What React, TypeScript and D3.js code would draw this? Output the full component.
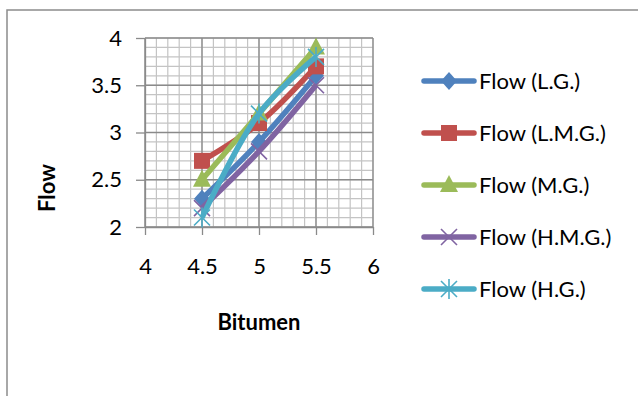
import React, { useEffect, useRef } from 'react';
import * as d3 from 'd3';

const bitumen = [4.5, 5, 5.5];
const seriesNames = ['Flow (L.G.)', 'Flow (L.M.G.)', 'Flow (M.G.)', 'Flow (H.M.G.)', 'Flow (H.G.)'];
const flowLG = [2.3, 2.9, 3.6];
const flowLMG = [2.7, 3.1, 3.7];
const flowMG = [2.5, 3.2, 3.9];
const flowHMG = [2.2, 2.8, 3.5];
const flowHG = [2.1, 3.2, 3.8];
const xTicks = [4, 4.5, 5, 5.5, 6];
const yTicks = [2, 2.5, 3, 3.5, 4];

const colors = ['#4F81BD', '#C0504D', '#9BBB59', '#8064A2', '#4BACC6'];
const markers = ['diamond', 'square', 'triangle', 'x', 'star'];

export default function App() {
  const ref = useRef<SVGSVGElement>(null);

  useEffect(() => {
    document.body.style.margin = '0';
    const svg = d3.select(ref.current);
    svg.selectAll('*').remove();

    const font = 'Lato, "Open Sans", sans-serif';
    const x = d3.scaleLinear().domain([4, 6]).range([145, 373]);
    const y = d3.scaleLinear().domain([2, 4]).range([227, 38]);

    // chart border
    svg.append('rect')
      .attr('x', 7).attr('y', 10).attr('width', 700).attr('height', 500)
      .attr('fill', 'none').attr('stroke', '#8c8c8c').attr('stroke-width', 1.5);

    // minor grid
    const minor = d3.range(0, 21).map(i => 4 + i * 0.1);
    const minorY = d3.range(0, 21).map(i => 2 + i * 0.1);
    const g = svg.append('g');
    g.selectAll('.mx').data(minor).enter().append('line')
      .attr('x1', d => x(d)).attr('x2', d => x(d)).attr('y1', y(2)).attr('y2', y(4))
      .attr('stroke', '#c4c4c4').attr('stroke-width', 1.2);
    g.selectAll('.my').data(minorY).enter().append('line')
      .attr('y1', d => y(d)).attr('y2', d => y(d)).attr('x1', x(4)).attr('x2', x(6))
      .attr('stroke', '#c4c4c4').attr('stroke-width', 1.2);
    // major grid
    g.selectAll('.Mx').data(xTicks).enter().append('line')
      .attr('x1', d => x(d)).attr('x2', d => x(d)).attr('y1', y(2)).attr('y2', y(4))
      .attr('stroke', '#8a8a8a').attr('stroke-width', 1.3);
    g.selectAll('.My').data(yTicks).enter().append('line')
      .attr('y1', d => y(d)).attr('y2', d => y(d)).attr('x1', x(4)).attr('x2', x(6))
      .attr('stroke', '#8a8a8a').attr('stroke-width', 1.3);

    // axes
    const xAxis = svg.append('g').attr('transform', `translate(0,${y(2)})`)
      .call(d3.axisBottom(x).tickValues(xTicks).tickSize(8).tickSizeOuter(0).tickPadding(23).tickFormat(d3.format('')));
    const yAxis = svg.append('g').attr('transform', `translate(${x(4)},0)`)
      .call(d3.axisLeft(y).tickValues(yTicks).tickSize(9).tickSizeOuter(0).tickPadding(14).tickFormat(d3.format('')));
    [xAxis, yAxis].forEach(a => {
      a.select('.domain').attr('stroke', '#8a8a8a').attr('stroke-width', 1.3);
      a.selectAll('.tick line').attr('stroke', '#8a8a8a').attr('stroke-width', 1.3);
      a.selectAll('text').attr('font-family', font).attr('font-size', 22).attr('fill', '#000');
    });

    // axis titles
    svg.append('text').attr('x', 259).attr('y', 330).attr('text-anchor', 'middle')
      .attr('font-family', font).attr('font-weight', 'bold').attr('font-size', 22).text('Bitumen');
    svg.append('text').attr('transform', 'translate(55,188) rotate(-90)').attr('text-anchor', 'middle')
      .attr('font-family', font).attr('font-weight', 'bold').attr('font-size', 22).text('Flow');

    const allSeries = [flowLG, flowLMG, flowMG, flowHMG, flowHG];
    const line = d3.line<number>()
      .x((_, i) => x(bitumen[i]))
      .y(d => y(d))
      .curve(d3.curveCatmullRom.alpha(0.5));

    const drawMarker = (sel: any, type: string, color: string, cx: number, cy: number) => {
      if (type === 'diamond') {
        sel.append('path').attr('d', `M${cx},${cy - 9}L${cx + 8},${cy}L${cx},${cy + 9}L${cx - 8},${cy}Z`).attr('fill', color);
      } else if (type === 'square') {
        sel.append('rect').attr('x', cx - 8).attr('y', cy - 8).attr('width', 16).attr('height', 16).attr('fill', color);
      } else if (type === 'triangle') {
        sel.append('path').attr('d', `M${cx},${cy - 10}L${cx + 9},${cy + 7}L${cx - 9},${cy + 7}Z`).attr('fill', color);
      } else if (type === 'x') {
        sel.append('path').attr('d', `M${cx - 8},${cy - 8}L${cx + 8},${cy + 8}M${cx - 8},${cy + 8}L${cx + 8},${cy - 8}`)
          .attr('stroke', color).attr('stroke-width', 1.6);
      } else {
        sel.append('path').attr('d', `M${cx - 8},${cy - 8}L${cx + 8},${cy + 8}M${cx - 8},${cy + 8}L${cx + 8},${cy - 8}M${cx},${cy - 10}L${cx},${cy + 10}`)
          .attr('stroke', color).attr('stroke-width', 1.6);
      }
    };

    allSeries.forEach((vals, si) => {
      const sg = svg.append('g');
      sg.append('path').datum(vals).attr('d', line)
        .attr('fill', 'none').attr('stroke', colors[si]).attr('stroke-width', 5.5).attr('stroke-linejoin', 'round');
      vals.forEach((v, i) => drawMarker(sg, markers[si], colors[si], x(bitumen[i]), y(v)));
    });

    // legend
    const leg = svg.append('g');
    seriesNames.forEach((name, i) => {
      const ly = 81 + i * 52;
      leg.append('line').attr('x1', 424).attr('x2', 474).attr('y1', ly).attr('y2', ly)
        .attr('stroke', colors[i]).attr('stroke-width', 5.5).attr('stroke-linecap', 'round');
      drawMarker(leg, markers[i], colors[i], 449, ly);
      leg.append('text').attr('x', 479).attr('y', ly).attr('dy', '0.35em')
        .attr('font-family', font).attr('font-size', 22).text(name);
    });
  }, []);

  return <svg ref={ref} width={638} height={396} style={{ display: 'block' }} />;
}
